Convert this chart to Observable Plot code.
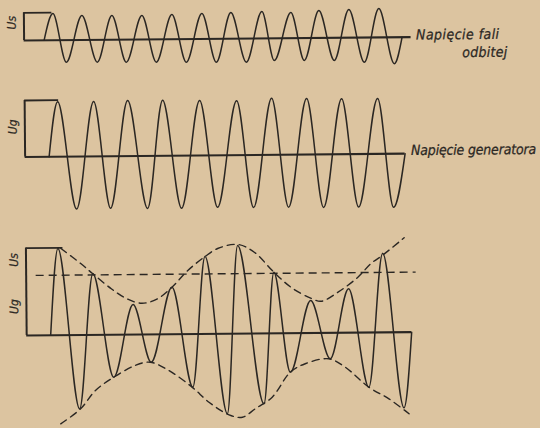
<!DOCTYPE html>
<html><head><meta charset="utf-8">
<script src="https://cdn.jsdelivr.net/npm/d3@7"></script>
<script src="https://cdn.jsdelivr.net/npm/@observablehq/plot@0.6"></script>
<style>
html,body{margin:0;padding:0;background:#dcc4a0;width:540px;height:428px;overflow:hidden}
#chart svg{display:block;transform:rotate(-0.5deg);transform-origin:25px 200px}
</style></head><body><div id="chart"></div>
<script>
// t: time (arbitrary units, 0 at the vertical axis); v: voltage relative to the trace's zero line

// Trace 1 — reflected wave voltage (Us): start, alternating peaks/troughs, end
const reflT = [20, 29, 42, 58, 73, 88, 102, 118, 132, 148, 162, 178, 192, 207, 222, 238, 250, 267, 280, 295, 310, 325, 340, 355, 370, 378];
const reflV = [0, 26.7, -22.1, 24.5, -22.3, 24.2, -22.6, 24, -22.8, 24.7, -23.1, 25.5, -23.4, 26.2, -23.6, 26.9, -22.2, 25.7, -22.4, 27.4, -22.7, 28.2, -24.7, 28.9, -26.5, 0];

// Trace 2 — generator voltage (Ug)
const genT = [24, 33, 51, 69, 85, 103, 122, 138, 156, 175, 192, 212, 228, 247, 263, 282, 298, 317, 333, 353, 368, 380];
const genV = [0, 55, -52.5, 55, -52, 55.5, -52.5, 55.5, -52.5, 55, -52, 54.5, -52.5, 56.5, -52.5, 56, -53, 55.5, -53, 55.5, -53.5, 0];

// Trace 3 — resulting voltage (Ug + Us)
const sumT = [24, 32, 52.3, 66.7, 86.7, 106.7, 124.3, 145.7, 165.7, 179, 200, 211.7, 236.7, 247.7, 263.3, 284.3, 303.3, 322.3, 341.7, 356.7, 376.7, 385];
const sumV = [0, 86.7, -73.8, 61.1, -42.5, 30.1, -27.8, 47, -53.1, 77.4, -80, 88.2, -70.4, 61.2, -39, 32.5, -25.9, 43.9, -54.7, 79.2, -75.6, 0];

// Envelopes of trace 3 (dashed)
const upT = [35, 55, 66.7, 85, 100, 115, 130, 145.7, 161.7, 179, 191.7, 211.7, 228.3, 247.7, 265, 285, 295, 311.7, 331.7, 345, 356.7, 378.3];
const upV = [86.7, 71.2, 61.1, 46, 36.1, 31.3, 34.9, 47, 63.6, 77.4, 85.3, 89.2, 81.3, 61.2, 45.7, 34.5, 31.7, 40.6, 55.4, 69, 77.2, 94.4];
const loT = [33.3, 53.3, 68.3, 86.7, 108.3, 123.3, 141.7, 165, 181.7, 201.7, 215, 228.3, 245, 263.3, 278.3, 301.7, 318.3, 341.7, 361.7, 381.7];
const loV = [-88.6, -73.8, -55.6, -42.5, -30.9, -27.8, -36.2, -53.1, -68.3, -81.1, -83.6, -75, -63.8, -39, -30.7, -25.9, -34.5, -54.7, -66.5, -81.6];

// Amplitude brackets at the vertical axis, and the zero-line lengths
const bracketTop = [27.7, 56.5, 87.3];     // v of the bracket's top edge, per trace
const bracketEnd = [28, 34, 37];           // t where the bracket's top edge ends
const zeroEnd = [387, 380, 385];           // t where each zero line ends
const ugLevel = 60;                        // dashed Ug level in trace 3
const ugSpan = [10, 390];                  // t extent of that dashed line

// Text
const traceLabels = ["Napięcie fali", "Napięcie generatora"];
const traceLabel2 = "odbitej";
const axisLabels = [["Us"], ["Ug"], ["Us", "Ug"]];

// ---- layout (not data): zero line of each trace, px from the top
const base = [40, 156.5, 335];
const Y = (p, v) => v - base[p];
const ink = "#2b2723";
const wave = (p, T, V) => T.map((t, i) => ({t, y: Y(p, V[i])}));

const zeroLines = base.map((b, p) => ({x1: 0, x2: zeroEnd[p], y: Y(p, 0)}));
const axes = base.map((b, p) => ({x: 0, y1: Y(p, 0), y2: Y(p, bracketTop[p])}));
const tops = base.map((b, p) => ({x1: 0, x2: bracketEnd[p], y: Y(p, bracketTop[p])}));

const leftLabels = [
  {text: axisLabels[0][0], y: Y(0, bracketTop[0] / 2), dy: -4},
  {text: axisLabels[1][0], y: Y(1, bracketTop[1] / 2), dy: -2},
  {text: axisLabels[2][0], y: Y(2, (bracketTop[2] + ugLevel) / 2), dy: -2},
  {text: axisLabels[2][1], y: Y(2, ugLevel / 2), dy: 1}
];

const font = "'DejaVu Sans Condensed', 'Liberation Sans Narrow', 'DejaVu Sans', sans-serif";
const tstyle = {fontSize: 14, fontStyle: "italic", fill: ink, stroke: ink, strokeWidth: 0.25, textAnchor: "start"};

const chart = Plot.plot({
  width: 540, height: 428,
  marginTop: 0, marginRight: 0, marginBottom: 0, marginLeft: 0,
  x: {domain: [-25, 515], range: [0, 540], axis: null},
  y: {domain: [-428, 0], range: [428, 0], axis: null},
  style: {background: "#dcc4a0", fontFamily: font, color: ink, overflow: "visible"},
  marks: [
    Plot.ruleY(zeroLines, {x1: "x1", x2: "x2", y: "y", stroke: ink, strokeWidth: 2.2}),
    Plot.ruleX(axes, {x: "x", y1: "y1", y2: "y2", stroke: ink, strokeWidth: 2}),
    Plot.ruleY(tops, {x1: "x1", x2: "x2", y: "y", stroke: ink, strokeWidth: 1.8}),
    Plot.ruleY([Y(2, ugLevel)], {x1: ugSpan[0], x2: ugSpan[1], stroke: ink, strokeWidth: 1.4, strokeDasharray: "8,5"}),
    Plot.line(wave(2, upT, upV), {x: "t", y: "y", curve: "catmull-rom", stroke: ink, strokeWidth: 1.4, strokeDasharray: "7,5"}),
    Plot.line(wave(2, loT, loV), {x: "t", y: "y", curve: "catmull-rom", stroke: ink, strokeWidth: 1.4, strokeDasharray: "7,5"}),
    Plot.line(wave(0, reflT, reflV), {x: "t", y: "y", curve: "monotone-x", stroke: ink, strokeWidth: 1.5}),
    Plot.line(wave(1, genT, genV), {x: "t", y: "y", curve: "monotone-x", stroke: ink, strokeWidth: 1.5}),
    Plot.line(wave(2, sumT, sumV), {x: "t", y: "y", curve: "monotone-x", stroke: ink, strokeWidth: 1.5}),
    Plot.text([traceLabels[0]], {x: zeroEnd[0], y: Y(0, 0), text: d => d, dx: 5, dy: -2, ...tstyle, className: "lbl-fali"}),
    Plot.text([traceLabel2], {x: zeroEnd[0], y: Y(0, 0), text: d => d, dx: 51, dy: 16, ...tstyle, className: "lbl-odb"}),
    Plot.text([traceLabels[1]], {x: zeroEnd[1], y: Y(1, 0), text: d => d, dx: 6, dy: -3, ...tstyle, className: "lbl-gen"}),
    ...leftLabels.map(l => Plot.text([l], {x: 0, y: "y", text: "text", rotate: -90, dx: -12, dy: l.dy, fontSize: 12, fontStyle: "italic", fill: ink, stroke: ink, strokeWidth: 0.2}))
  ]
});
// widen the hand-lettered labels to their drawn lengths (style only)
const widths = {"lbl-fali": 83, "lbl-odb": 45, "lbl-gen": 125};
for (const [cls, w] of Object.entries(widths)) {
  chart.querySelectorAll(`.${cls} text`).forEach(t => { t.setAttribute("textLength", w); t.setAttribute("lengthAdjust", "spacing"); });
}
document.getElementById("chart").appendChild(chart);
</script></body></html>
